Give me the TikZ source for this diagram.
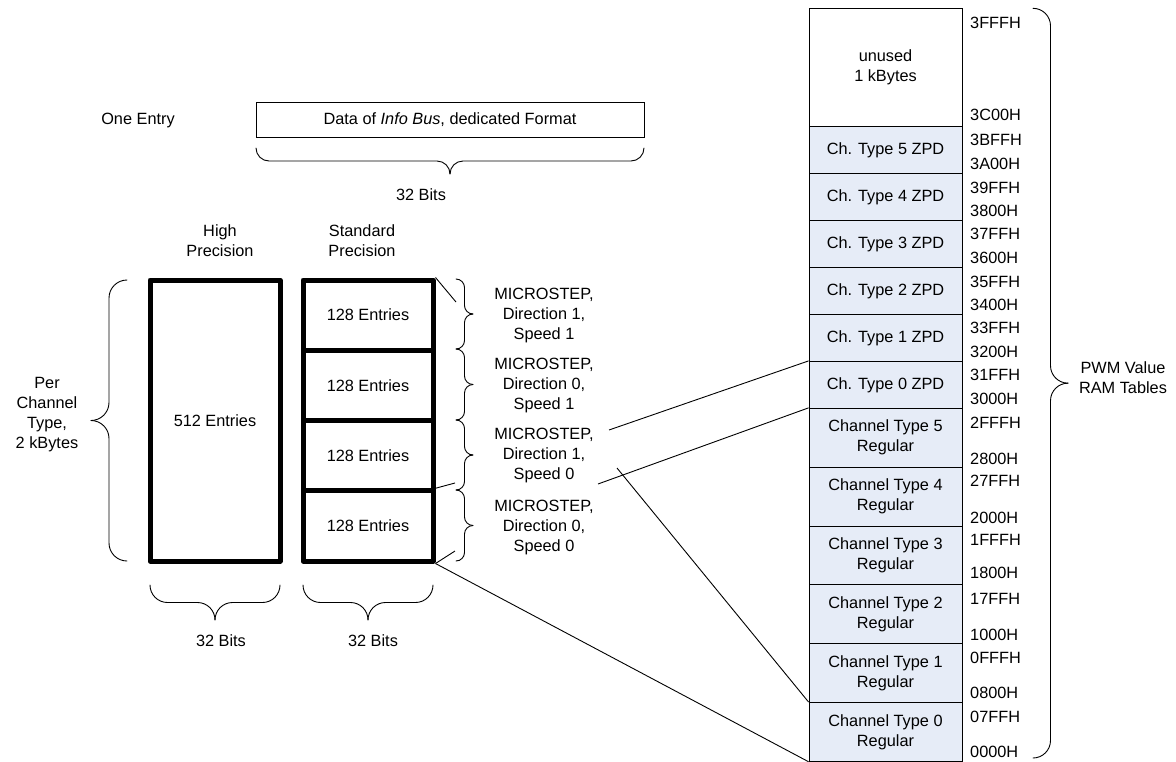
\documentclass[tikz,border=0pt]{standalone}
\usepackage{fontspec}
\setmainfont{Liberation Sans}
\usetikzlibrary{calc}

\definecolor{memfill}{RGB}{230,236,247}

% vertical curly brace: x of the two ends, top y, bottom y, signed depth (>0: tip to the right)
\newcommand\vbrace[4]{%
  \draw[brc, rounded corners={abs(#4)/2}] (#1,#2) -- ({#1+(#4)/2},#2) -- ({#1+(#4)/2},{(#2+#3)/2}) -- ({#1+(#4)},{(#2+#3)/2});
  \draw[brc, rounded corners={abs(#4)/2}] (#1,#3) -- ({#1+(#4)/2},#3) -- ({#1+(#4)/2},{(#2+#3)/2}) -- ({#1+(#4)},{(#2+#3)/2});
}
% horizontal curly brace: y of the two ends, left x, right x, signed depth (>0: tip downwards)
\newcommand\hbrace[4]{%
  \draw[brc, rounded corners={abs(#4)/2}] (#2,#1) -- (#2,{#1+(#4)/2}) -- ({(#2+#3)/2},{#1+(#4)/2}) -- ({(#2+#3)/2},{#1+(#4)});
  \draw[brc, rounded corners={abs(#4)/2}] (#3,#1) -- (#3,{#1+(#4)/2}) -- ({(#2+#3)/2},{#1+(#4)/2}) -- ({(#2+#3)/2},{#1+(#4)});
}

\begin{document}
\begin{tikzpicture}[x=1pt,y=-1pt,
  every node/.style={font=\fontsize{16.3}{20}\selectfont, align=center, inner sep=0pt},
  link/.style={line width=0.9pt},
  brc/.style={line width=0.9pt, line cap=round},
  bigbox/.style={draw, line width=5pt, line join=round, minimum width=130, minimum height=281},
  secbox/.style={draw, line width=5pt, line join=round, minimum width=130, minimum height=70.25},
  entrybox/.style={draw, line width=0.9pt, minimum width=388, minimum height=35.4},
  memrow/.style={draw, line width=0.9pt, fill=memfill, minimum width=153},
  addr/.style={anchor=west}]

\useasboundingbox (0,0) rectangle (1176,761);
\fill[white] (0,0) rectangle (1176,761);

% one entry
\node (one) at (138,120) {One Entry};
\node[entrybox] (entry) at (450,120) {Data of \textit{Info Bus}, dedicated Format};
\hbrace{148}{256}{644}{26}
\node (bits) at (421,195) {32 Bits};

% per channel type tables
\node (hpl) at (220,241) {High\\Precision};
\node (spl) at (362,241) {Standard\\Precision};
\node[bigbox] (hp) at (215,420.5) {512 Entries};
\foreach \i/\y in {1/315.125, 2/385.375, 3/455.625, 4/525.875}
  \node[secbox] (s\i) at (368,\y) {128 Entries};

\vbrace{127}{280}{561}{-36}
\node (pct) at (47,415) {Per\\Channel\\Type,\\2 kBytes};

\hbrace{585}{150}{280}{35}
\hbrace{585}{303}{433}{35}
\node (hbits) at (221,641) {32 Bits};
\node (sbits) at (373,641) {32 Bits};

\vbrace{456}{279}{349}{17}
\vbrace{456}{349}{420}{17}
\vbrace{456}{420}{490}{17}
\vbrace{456}{490}{561}{17}
\node (m1) at (544,315) {MICROSTEP,\\Direction 1,\\Speed 1};
\node (m2) at (544,385) {MICROSTEP,\\Direction 0,\\Speed 1};
\node (m3) at (544,455) {MICROSTEP,\\Direction 1,\\Speed 0};
\node (m4) at (544,527) {MICROSTEP,\\Direction 0,\\Speed 0};

% RAM map
\node[memrow, fill=white, minimum height=118.4] (unused) at (885.5,67.5) {unused\\1 kBytes};
\foreach \t/\y in {5/150.17, 4/197.10, 3/244.03, 2/290.96, 1/337.89, 0/384.82}
  \node[memrow, minimum height=46.93] (zpd\t) at (885.5,\y) {Ch. Type \t\ ZPD};
\foreach \t/\y in {5/437.72, 4/496.55, 3/555.38, 2/614.21, 1/673.04, 0/731.87}
  \node[memrow, minimum height=58.83] (reg\t) at (885.5,\y) {Channel Type \t\\Regular};

\foreach \a/\y in {3FFFH/22.7, 3C00H/115, 3BFFH/140, 3A00H/164.3, 39FFH/187.7, 3800H/211,
    37FFH/234.3, 3600H/258.3, 35FFH/281.7, 3400H/305, 33FFH/328.3, 3200H/351.7,
    31FFH/375, 3000H/399, 2FFFH/422.7, 2800H/459.3, 27FFH/481, 2000H/517.7,
    1FFFH/540, 1800H/573.3, 17FFH/599.3, 1000H/635, 0FFFH/658.3, 0800H/693.3,
    07FFH/717.3, 0000H/751.7}
  \node[addr] at (970,\y) {\a};

\vbrace{1033}{8.3}{758}{35}
\node (pwm) at (1123,378) {PWM Value\\RAM Tables};

% connectors
\coordinate (ka) at (456,302);
\coordinate (kb) at (455,483);
\coordinate (kc) at (455,551);
\draw[link] (s1.north east) -- (ka);
\draw[link] (s4.north east) -- (kb);
\draw[link] (s4.south east) -- (kc);
\draw[link] (s4.south east) -- (reg0.south west);

\coordinate (la) at (609,430);
\coordinate (lb) at (598,484);
\coordinate (lc) at (617,468);
\draw[link] (la) -- (zpd0.north west);
\draw[link] (lb) -- (reg5.north west);
\draw[link] (lc) -- (reg0.north west);
\end{tikzpicture}
\end{document}
